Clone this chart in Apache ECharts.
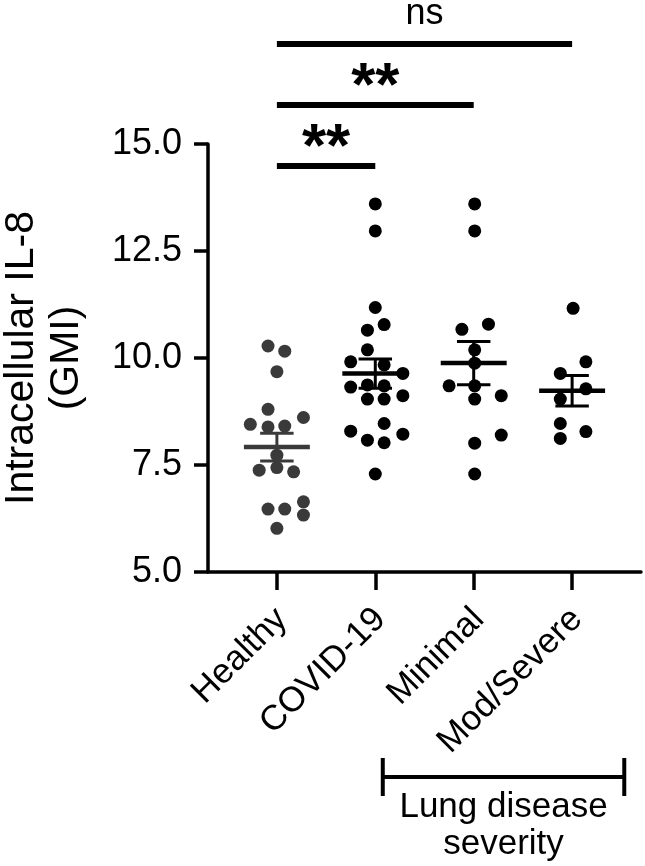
<!DOCTYPE html>
<html><head><meta charset="utf-8">
<script src="https://cdn.jsdelivr.net/npm/echarts@6/dist/echarts.min.js"></script>
<style>html,body{margin:0;padding:0;background:#fff}#c{width:645px;height:866px}</style>
</head><body><div id="c"></div>
<script>
// ---------- data ----------
const categories = ['Healthy', 'COVID-19', 'Minimal', 'Mod/Severe'];
const yTickValues = [5.0, 7.5, 10.0, 12.5, 15.0];

const healthyValues  = [10.28, 10.16, 9.68, 8.80, 8.61, 8.45, 8.39, 8.41, 7.73, 7.38, 7.44, 7.34, 6.47, 6.47, 6.64, 6.33, 6.02];
const healthyJitter  = [-0.09, 0.08, 0, -0.09, 0.27, -0.27, -0.09, 0.08, 0, -0.18, 0, 0.17, -0.09, 0.08, 0.27, 0.27, 0];

const covidValues    = [13.60, 12.97, 11.18, 10.78, 10.65, 10.19, 9.91, 9.84, 9.64, 9.32, 9.37, 9.35, 9.12, 9.04, 9.04, 8.29, 8.47, 8.08, 8.02, 8.22, 7.29];
const covidJitter    = [0, 0, 0, 0.09, -0.08, -0.08, -0.25, 0.09, 0.28, -0.25, -0.08, 0.09, 0.28, -0.08, 0.09, -0.25, 0.09, -0.08, 0.09, 0.28, 0];

const minimalValues  = [13.60, 12.97, 10.67, 10.79, 10.19, 9.88, 9.35, 9.35, 9.04, 9.12, 8.20, 8.01, 7.29];
const minimalJitter  = [0.01, 0.01, -0.12, 0.15, 0.01, 0.01, -0.25, 0.01, 0.01, 0.28, 0.28, 0.01, 0.01];

const severeValues   = [11.16, 9.91, 9.64, 9.28, 9.04, 8.47, 8.28, 8.12];
const severeJitter   = [0.01, 0.14, -0.12, 0.14, -0.12, -0.12, 0.14, -0.12];

const groupValues = [healthyValues, covidValues, minimalValues, severeValues];
const groupJitter = [healthyJitter, covidJitter, minimalJitter, severeJitter];

// significance comparisons: [fromIndex, toIndex, label]
const comparisons = [[0, 1, '**'], [0, 2, '**'], [0, 3, 'ns']];
// grouping bracket under axis: [fromX, toX, label]
const bracketSpan = [1.076, 3.53];
const bracketLabel = 'Lung disease\nseverity';
const yAxisTitle = 'Intracellular IL-8\n(GMI)';

// ---------- styling ----------
const groupColors = ['#3a3a3a', '#000000', '#000000', '#000000'];
const FONT = 'Liberation Sans, Arial, Helvetica, sans-serif';

function meanSem(arr) {
  const n = arr.length;
  const m = arr.reduce((a, b) => a + b, 0) / n;
  const v = arr.reduce((a, b) => a + (b - m) * (b - m), 0) / (n - 1);
  return [m, Math.sqrt(v) / Math.sqrt(n)];
}
const summary = groupValues.map((g, i) => { const ms = meanSem(g); return [i, ms[0], ms[1], i]; });

const scatterSeries = groupValues.map((vals, gi) => ({
  type: 'scatter',
  name: categories[gi],
  data: vals.map((v, k) => [gi + groupJitter[gi][k], v]),
  symbol: 'circle',
  symbolSize: 13,
  itemStyle: { color: groupColors[gi], opacity: 1 },
  z: 2,
  silent: true
}));

const errorSeries = {
  type: 'custom',
  data: summary,
  clip: false,
  z: 5,
  silent: true,
  renderItem(params, api) {
    const x = api.value(0), m = api.value(1), s = api.value(2);
    const col = groupColors[api.value(3)];
    const c = api.coord([x, m]);
    const hi = api.coord([x, m + s]);
    const lo = api.coord([x, m - s]);
    const unit = api.size([1, 0])[0];
    const hw = unit * 0.335, cw = unit * 0.17;
    return { type: 'group', children: [
      { type: 'line', shape: { x1: c[0], y1: hi[1], x2: c[0], y2: lo[1] }, style: { stroke: col, lineWidth: 3 } },
      { type: 'line', shape: { x1: c[0] - cw, y1: hi[1], x2: c[0] + cw, y2: hi[1] }, style: { stroke: col, lineWidth: 3 } },
      { type: 'line', shape: { x1: c[0] - cw, y1: lo[1], x2: c[0] + cw, y2: lo[1] }, style: { stroke: col, lineWidth: 3 } },
      { type: 'line', shape: { x1: c[0] - hw, y1: c[1], x2: c[0] + hw, y2: c[1] }, style: { stroke: col, lineWidth: 4.5 } }
    ]};
  }
};

const sigSeries = {
  type: 'custom',
  data: comparisons.map((c, i) => [c[0], c[1], i]),
  clip: false,
  silent: true,
  z: 6,
  renderItem(params, api) {
    const a = api.coord([api.value(0), 15]);
    const b = api.coord([api.value(1), 15]);
    const lvl = api.value(2);
    const y = a[1] + 22 - lvl * 61;
    const lab = comparisons[params.dataIndex][2];
    const isStar = lab.indexOf('*') >= 0;
    return { type: 'group', children: [
      { type: 'line', shape: { x1: a[0], y1: y, x2: b[0], y2: y }, style: { stroke: '#000', lineWidth: 6 } },
      { type: 'text', x: (a[0] + b[0]) / 2, y: isStar ? y - 17 : y - 30,
        style: { text: lab, fill: '#000', align: 'center', verticalAlign: 'middle',
          font: isStar ? 'bold 62px ' + FONT : '36px ' + FONT } }
    ]};
  }
};

const bracketSeries = {
  type: 'custom',
  data: [[bracketSpan[0], bracketSpan[1]]],
  clip: false,
  silent: true,
  z: 6,
  renderItem(params, api) {
    const a = api.coord([api.value(0), 5]);
    const b = api.coord([api.value(1), 5]);
    const y = a[1] + 205;
    return { type: 'group', children: [
      { type: 'line', shape: { x1: a[0], y1: y, x2: b[0], y2: y }, style: { stroke: '#000', lineWidth: 4 } },
      { type: 'line', shape: { x1: a[0], y1: y - 19, x2: a[0], y2: y + 19 }, style: { stroke: '#000', lineWidth: 4 } },
      { type: 'line', shape: { x1: b[0], y1: y - 19, x2: b[0], y2: y + 19 }, style: { stroke: '#000', lineWidth: 4 } },
      { type: 'text', x: (a[0] + b[0]) / 2, y: y + 12,
        style: { text: bracketLabel, fill: '#000', align: 'center', verticalAlign: 'top',
          font: '35px ' + FONT, lineHeight: 37 } }
    ]};
  }
};

const chart = echarts.init(document.getElementById('c'), null, { renderer: 'canvas' });
chart.setOption({
  animation: false,
  backgroundColor: '#fff',
  textStyle: { fontFamily: FONT },
  grid: { left: 208, right: 4, top: 144, bottom: 294, containLabel: false, outerBoundsMode: 'none' },
  xAxis: {
    type: 'value', min: -0.7, max: 3.7,
    axisLine: { show: true, onZero: false, lineStyle: { color: '#000', width: 3.5 } },
    axisTick: { show: true, customValues: [0, 1, 2, 3], length: 18, lineStyle: { color: '#000', width: 3.5 } },
    axisLabel: { customValues: [0.05, 1.05, 2.05, 3.05], rotate: 45, margin: 42, color: '#000', fontSize: 35, fontFamily: FONT,
      formatter: v => categories[Math.round(v)] },
    splitLine: { show: false }
  },
  yAxis: {
    type: 'value', min: 5, max: 15, interval: 2.5,
    name: yAxisTitle, nameLocation: 'middle', nameGap: 119,
    nameTextStyle: { color: '#000', fontSize: 41, lineHeight: 45, fontFamily: FONT },
    axisLine: { show: true, onZero: false, lineStyle: { color: '#000', width: 3.5 } },
    axisTick: { show: true, length: 14, lineStyle: { color: '#000', width: 3.5 } },
    axisLabel: { color: '#000', fontSize: 36, margin: 26, fontFamily: FONT,
      formatter: v => (yTickValues.indexOf(v) >= 0 ? v.toFixed(1) : '') },
    splitLine: { show: false }
  },
  series: [...scatterSeries, errorSeries, sigSeries, bracketSeries]
});
</script></body></html>
